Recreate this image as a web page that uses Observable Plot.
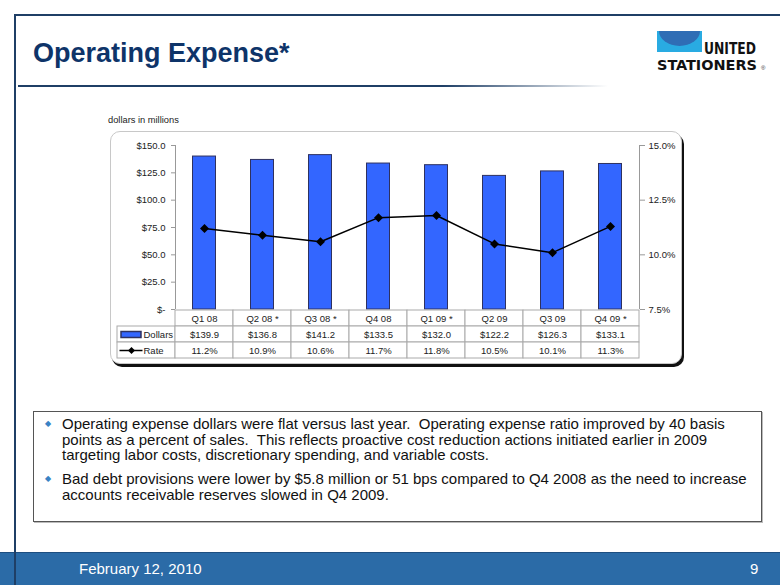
<!DOCTYPE html>
<html>
<head>
<meta charset="utf-8">
<script src="https://cdn.jsdelivr.net/npm/d3@7"></script>
<script src="https://cdn.jsdelivr.net/npm/@observablehq/plot@0.6"></script>
<style>
  html, body { margin: 0; padding: 0; background: #fff; }
  #slide { position: relative; width: 780px; height: 585px; overflow: hidden; background: #fff;
           font-family: "Liberation Sans", Arial, sans-serif; }
  .abs { position: absolute; }
  #frameTop { left: 14px; top: 14px; width: 766px; height: 2px; background: #1f3f66; }
  #frameLeft { left: 14px; top: 14px; width: 2px; height: 571px; background: #1f3f66; z-index: 5; }
  #title { left: 33px; top: 38px; font-size: 27px; font-weight: bold; color: #0e3469; white-space: nowrap; }
  #sep { left: 18px; top: 85px; width: 590px; height: 2px;
         background: linear-gradient(to right, #1f3f66 0%, #1f3f66 72%, rgba(31,63,102,0) 100%); }
  #units { left: 108px; top: 115px; font-size: 9.3px; color: #222; white-space: nowrap; }
  #chartBox { left: 110px; top: 131px; width: 570px; height: 231px; border: 1px solid #c8c8c8;
              border-radius: 10px; box-shadow: 2px 3px 0 #111; background: #fff; }
  #chart { left: 0; top: 0; }
  #table { left: 0; top: 309px; }
  #textBox { left: 33px; top: 411px; width: 727px; height: 109px; border: 1px solid #555;
             box-shadow: 1px 1px 0 #bbb; background: #fff; }
  .para { left: 62px; font-size: 15px; line-height: 15.5px; color: #111; white-space: pre; }
  .bullet { left: 45px; font-size: 8px; color: #3a82c4; }
  #footer { left: 0; top: 552px; width: 780px; height: 33px; background: #2b6ba7;
            border-top: 1px solid #1d4e80; }
  #date { left: 79px; top: 560px; font-size: 15px; color: #fff; white-space: nowrap; }
  #page { left: 750px; top: 560px; font-size: 15px; color: #fff; }
</style>
</head>
<body>
<div id="slide">
  <div id="frameTop" class="abs"></div>
  <div id="title" class="abs">Operating Expense*</div>
  <div id="sep" class="abs"></div>
  <svg class="abs" style="left:650px;top:26px" width="125" height="50" viewBox="650 26 125 50">
    <rect x="657" y="31" width="45" height="21" fill="#29abe2"/>
    <path d="M659,31 L700,31 A20.5,15 0 0 1 659,31 Z" fill="#2f6db5"/>
    <text x="704" y="54" font-family="'DejaVu Sans Condensed','Liberation Sans',sans-serif" font-weight="bold" font-size="16" fill="#111" textLength="52" lengthAdjust="spacingAndGlyphs">UNITED</text>
    <text x="657" y="70" font-family="'DejaVu Sans Condensed','Liberation Sans',sans-serif" font-weight="bold" font-size="14" fill="#111" textLength="100" lengthAdjust="spacingAndGlyphs">STATIONERS</text>
    <text x="761" y="70" font-family="'Liberation Sans',sans-serif" font-size="6" fill="#333">®</text>
  </svg>
  <div id="units" class="abs">dollars in millions</div>
  <div id="chartBox" class="abs"></div>
  <div id="textBox" class="abs"></div>
  <div class="abs bullet" style="top:419px">◆</div>
  <div class="abs para" style="top:416px">Operating expense dollars were flat versus last year.  Operating expense ratio improved by 40 basis
points as a percent of sales.  This reflects proactive cost reduction actions initiated earlier in 2009
targeting labor costs, discretionary spending, and variable costs.</div>
  <div class="abs bullet" style="top:474px">◆</div>
  <div class="abs para" style="top:471px">Bad debt provisions were lower by $5.8 million or 51 bps compared to Q4 2008 as the need to increase
accounts receivable reserves slowed in Q4 2009.</div>
  <div id="footer" class="abs"></div>
  <div id="date" class="abs">February 12, 2010</div>
  <div id="page" class="abs">9</div>
  <div id="frameLeft" class="abs"></div>
</div>
<script>
const quarters = ["Q1 08", "Q2 08 *", "Q3 08 *", "Q4 08", "Q1 09 *", "Q2 09", "Q3 09", "Q4 09 *"];
const dollars = [139.9, 136.8, 141.2, 133.5, 132.0, 122.2, 126.3, 133.1];
const rates = [11.2, 10.9, 10.6, 11.7, 11.8, 10.5, 10.1, 11.3];
const dollarTicks = [0, 25, 50, 75, 100, 125, 150];
const rateTicks = [7.5, 10, 12.5, 15];
const rowNames = ["cat", "Dollars", "Rate"];

const rateMin = 7.5, rateMax = 15, dollarMax = 150;
const rateToY = r => (r - rateMin) / (rateMax - rateMin) * dollarMax;
const yToRate = y => rateMin + y / dollarMax * (rateMax - rateMin);

const data = quarters.map((q, i) => ({q, dollars: dollars[i], rate: rates[i]}));

const font = "'Liberation Sans', Arial, sans-serif";
const barFill = "#3366ff", barStroke = "#2e3160";

const rhombus = s => ({draw(ctx) { ctx.moveTo(0, -s); ctx.lineTo(s, 0); ctx.lineTo(0, s); ctx.lineTo(-s, 0); ctx.closePath(); }});

const chart = Plot.plot({
  width: 780, height: 310,
  marginLeft: 175, marginRight: 141, marginTop: 145, marginBottom: 1,
  style: {background: "transparent", overflow: "visible", fontFamily: font, fontSize: "9.5px", color: "#222"},
  x: {domain: quarters, padding: 0, axis: null},
  y: {domain: [0, dollarMax], axis: null},
  marks: [
    Plot.barY(data, {x: "q", y: "dollars", fill: barFill, stroke: barStroke, strokeWidth: 1, insetLeft: 17.5, insetRight: 17.5}),
    Plot.ruleX([quarters[0]], {dx: -29, stroke: "#999", strokeWidth: 1}),
    Plot.ruleX([quarters[quarters.length - 1]], {dx: 29, stroke: "#999", strokeWidth: 1}),
    Plot.axisY(dollarTicks, {anchor: "left", label: null, tickSize: 4, tickPadding: 6, stroke: "#999", fill: "#222",
      tickFormat: d => d === 0 ? "$-" : "$" + d.toFixed(1)}),
    Plot.axisY(rateTicks.map(rateToY), {anchor: "right", label: null, tickSize: 5, tickPadding: 4, stroke: "#999", fill: "#222",
      tickFormat: d => yToRate(d).toFixed(1) + "%"}),
    Plot.line(data, {x: "q", y: d => rateToY(d.rate), stroke: "#000", strokeWidth: 1.5}),
    Plot.dot(data, {x: "q", y: d => rateToY(d.rate), symbol: rhombus(4.5), fill: "#000", stroke: "none"})
  ]
});
chart.id = "chart";
chart.classList.add("abs");
document.getElementById("slide").appendChild(chart);

const cols = ["legend", ...quarters];
const cells = [];
quarters.forEach(q => cells.push({c: q, r: "cat"}));
["Dollars", "Rate"].forEach(r => cols.forEach(c => cells.push({c, r})));

const rectSym = {draw(ctx) { ctx.rect(-10, -3, 20, 6); }};
const lineSym = {draw(ctx) { ctx.moveTo(-12, 0); ctx.lineTo(11, 0); }};

const table = Plot.plot({
  width: 780, height: 49,
  marginLeft: 117, marginRight: 141, marginTop: 0, marginBottom: 0,
  style: {background: "transparent", overflow: "visible", fontFamily: font, fontSize: "9.5px", color: "#222"},
  x: {domain: cols, padding: 0, axis: null},
  y: {domain: rowNames, padding: 0, axis: null},
  marks: [
    Plot.cell(cells, {x: "c", y: "r", fill: "#fff", stroke: "#aaa", strokeWidth: 1}),
    Plot.text(quarters, {x: d => d, y: () => "cat", text: d => d, fill: "#222"}),
    Plot.text(data, {x: "q", y: () => "Dollars", text: d => "$" + d.dollars.toFixed(1), fill: "#222"}),
    Plot.text(data, {x: "q", y: () => "Rate", text: d => d.rate.toFixed(1) + "%", fill: "#222"}),
    Plot.dot(["Dollars"], {x: () => "legend", y: () => "Dollars", symbol: rectSym, fill: barFill, stroke: barStroke, dx: -15.5}),
    Plot.dot(["Rate"], {x: () => "legend", y: () => "Rate", symbol: lineSym, stroke: "#000", strokeWidth: 1.5, dx: -15}),
    Plot.dot(["Rate"], {x: () => "legend", y: () => "Rate", symbol: rhombus(3.5), fill: "#000", stroke: "none", dx: -15}),
    Plot.text(["Dollars", "Rate"], {x: () => "legend", y: d => d, text: d => d, textAnchor: "start", dx: -3, fill: "#222"})
  ]
});
table.id = "table";
table.classList.add("abs");
document.getElementById("slide").appendChild(table);
</script>
</body>
</html>
